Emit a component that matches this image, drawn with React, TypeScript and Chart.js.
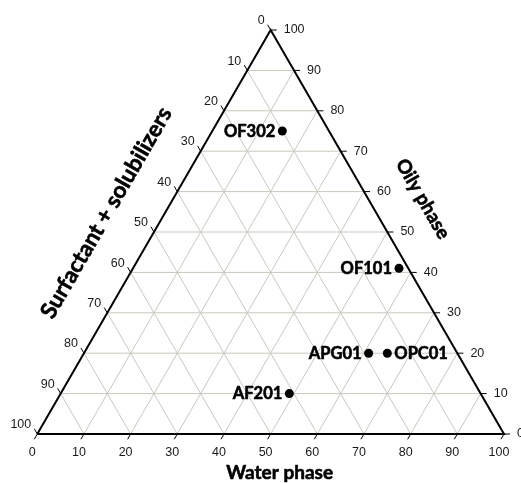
import { useEffect, useRef } from "react";
import { Chart, registerables } from "chart.js";

Chart.register(...registerables);

// ---- data ----
const TICKS = [0, 10, 20, 30, 40, 50, 60, 70, 80, 90, 100];
const TICK_LABELS = ["0", "10", "20", "30", "40", "50", "60", "70", "80", "90", "100"];
const SAMPLES = ["OF302", "OF101", "APG01", "OPC01", "AF201"];
const WATER = [15, 57, 61, 65, 49];
const OIL = [75, 41, 20, 20, 10];
const SURFACTANT = [10, 2, 19, 15, 41];
const LABEL_SIDE = ["left", "left", "left", "right", "left"];
const TITLE_WATER = "Water phase";
const TITLE_OIL = "Oily phase";
const TITLE_SURF = "Surfactant + solubilizers";

const H = Math.sqrt(3) / 2;
// ternary (water, oil) -> cartesian data coords (surfactant = 100 - water - oil)
const tern = (w: number, o: number) => ({ x: w + o / 2, y: o * H });

const GRID_COLOR = "#c8c8be";
const TICK_LEN = 1.3;

function buildDatasets() {
  const ds: any[] = [];
  const seg = (a: any, b: any, color: string, width: number, order: number) => ({
    type: "scatter",
    data: [a, b],
    showLine: true,
    borderColor: color,
    borderWidth: width,
    pointRadius: 0,
    pointHoverRadius: 0,
    clip: false,
    fill: false,
    order,
  });
  const inner = TICKS.filter((v) => v > 0 && v < 100);
  inner.forEach((v) => {
    ds.push(seg(tern(0, v), tern(100 - v, v), GRID_COLOR, 1, 4));
    ds.push(seg(tern(v, 0), tern(v, 100 - v), GRID_COLOR, 1, 4));
    ds.push(seg(tern(0, 100 - v), tern(100 - v, 0), GRID_COLOR, 1, 4));
  });
  TICKS.forEach((v) => {
    const b = tern(v, 0);
    ds.push(seg(b, { x: b.x - 0.5 * TICK_LEN, y: b.y - H * TICK_LEN }, "#000", 1, 3));
    const l = tern(0, 100 - v);
    ds.push(seg(l, { x: l.x - 0.5 * TICK_LEN, y: l.y + H * TICK_LEN }, "#000", 1, 3));
    const r = tern(100 - v, v);
    ds.push(seg(r, { x: r.x + TICK_LEN, y: r.y }, "#000", 1, 3));
  });
  ds.push({
    type: "scatter",
    data: [tern(0, 0), tern(100, 0), tern(0, 100), tern(0, 0)],
    showLine: true,
    borderColor: "#000",
    borderWidth: 2,
    pointRadius: 0,
    clip: false,
    fill: false,
    borderJoinStyle: "miter",
    order: 2,
  });
  ds.push({
    type: "scatter",
    data: SAMPLES.map((_, i) => tern(WATER[i], OIL[i])),
    backgroundColor: "#000",
    borderColor: "#000",
    pointRadius: 4.5,
    pointBorderWidth: 0,
    clip: false,
    order: 0,
  });
  return ds;
}

const boldText = (ctx: any, t: string, x: number, y: number) => {
  ctx.lineWidth = 0.6;
  ctx.strokeStyle = "#000";
  ctx.lineJoin = "round";
  ctx.strokeText(t, x, y);
  ctx.fillText(t, x, y);
};

const labelsPlugin = {
  id: "ternaryLabels",
  afterDatasetsDraw(chart: any) {
    const ctx = chart.ctx;
    const xs = chart.scales.x;
    const ys = chart.scales.y;
    const px = (p: { x: number; y: number }) => ({
      x: xs.getPixelForValue(p.x),
      y: ys.getPixelForValue(p.y),
    });
    ctx.save();
    ctx.fillStyle = "#1a1a1a";
    ctx.font = "12.5px 'Liberation Sans', Arial, sans-serif";
    TICKS.forEach((v, i) => {
      const t = TICK_LABELS[i];
      const b = tern(v, 0);
      const be = px({ x: b.x - 0.5 * TICK_LEN, y: b.y - H * TICK_LEN });
      ctx.textAlign = "center";
      ctx.textBaseline = "middle";
      ctx.fillText(t, be.x - 2, be.y + 13);
      const l = tern(0, 100 - v);
      const le = px({ x: l.x - 0.5 * TICK_LEN, y: l.y + H * TICK_LEN });
      ctx.textAlign = "right";
      ctx.fillText(t, le.x - 3, le.y - 4);
      const r = tern(100 - v, v);
      const re = px({ x: r.x + TICK_LEN, y: r.y });
      ctx.textAlign = "left";
      ctx.fillText(t, re.x + 7, re.y);
    });

    ctx.fillStyle = "#000";
    ctx.font = "bold 16.5px Lato, 'Open Sans', sans-serif";
    ctx.textBaseline = "middle";
    SAMPLES.forEach((name, i) => {
      const p = px(tern(WATER[i], OIL[i]));
      if (LABEL_SIDE[i] === "left") {
        ctx.textAlign = "right";
        boldText(ctx, name, p.x - 7, p.y + 0.5);
      } else {
        ctx.textAlign = "left";
        boldText(ctx, name, p.x + 7, p.y + 0.5);
      }
    });

    const a = chart.chartArea;
    ctx.font = "bold 19px Lato, 'Open Sans', sans-serif";
    ctx.textAlign = "center";
    ctx.textBaseline = "alphabetic";
    boldText(ctx, TITLE_WATER, xs.getPixelForValue(50) + 9, a.bottom + 45);

    ctx.textBaseline = "middle";
    ctx.save();
    ctx.translate(xs.getPixelForValue(82.6), ys.getPixelForValue(50.4));
    ctx.rotate(Math.PI / 3);
    boldText(ctx, TITLE_OIL, 0, 0);
    ctx.restore();

    ctx.font = "bold 22.5px Lato, 'Open Sans', sans-serif";
    ctx.save();
    ctx.translate(xs.getPixelForValue(14.8), ys.getPixelForValue(47.4));
    ctx.rotate(-Math.PI / 3);
    boldText(ctx, TITLE_SURF, 0, 0);
    ctx.restore();

    ctx.restore();
  },
};

export default function App() {
  const ref = useRef<HTMLCanvasElement | null>(null);
  useEffect(() => {
    if (!ref.current) return;
    const chart = new Chart(ref.current, {
      type: "scatter",
      data: { datasets: buildDatasets() },
      options: {
        responsive: false,
        maintainAspectRatio: false,
        animation: false,
        events: [],
        layout: { padding: { left: 37.3, right: 17, top: 30, bottom: 49 } },
        scales: {
          x: { type: "linear", min: 0, max: 100, display: false },
          y: { type: "linear", min: 0, max: 100 * H, display: false },
        },
        plugins: {
          legend: { display: false },
          tooltip: { enabled: false },
        },
      },
      plugins: [labelsPlugin],
    } as any);
    return () => chart.destroy();
  }, []);
  return (
    <div style={{ position: "absolute", left: 0, top: 0, width: 521, height: 483, background: "#fff" }}>
      <canvas ref={ref} width={521} height={483} style={{ display: "block" }} />
    </div>
  );
}
